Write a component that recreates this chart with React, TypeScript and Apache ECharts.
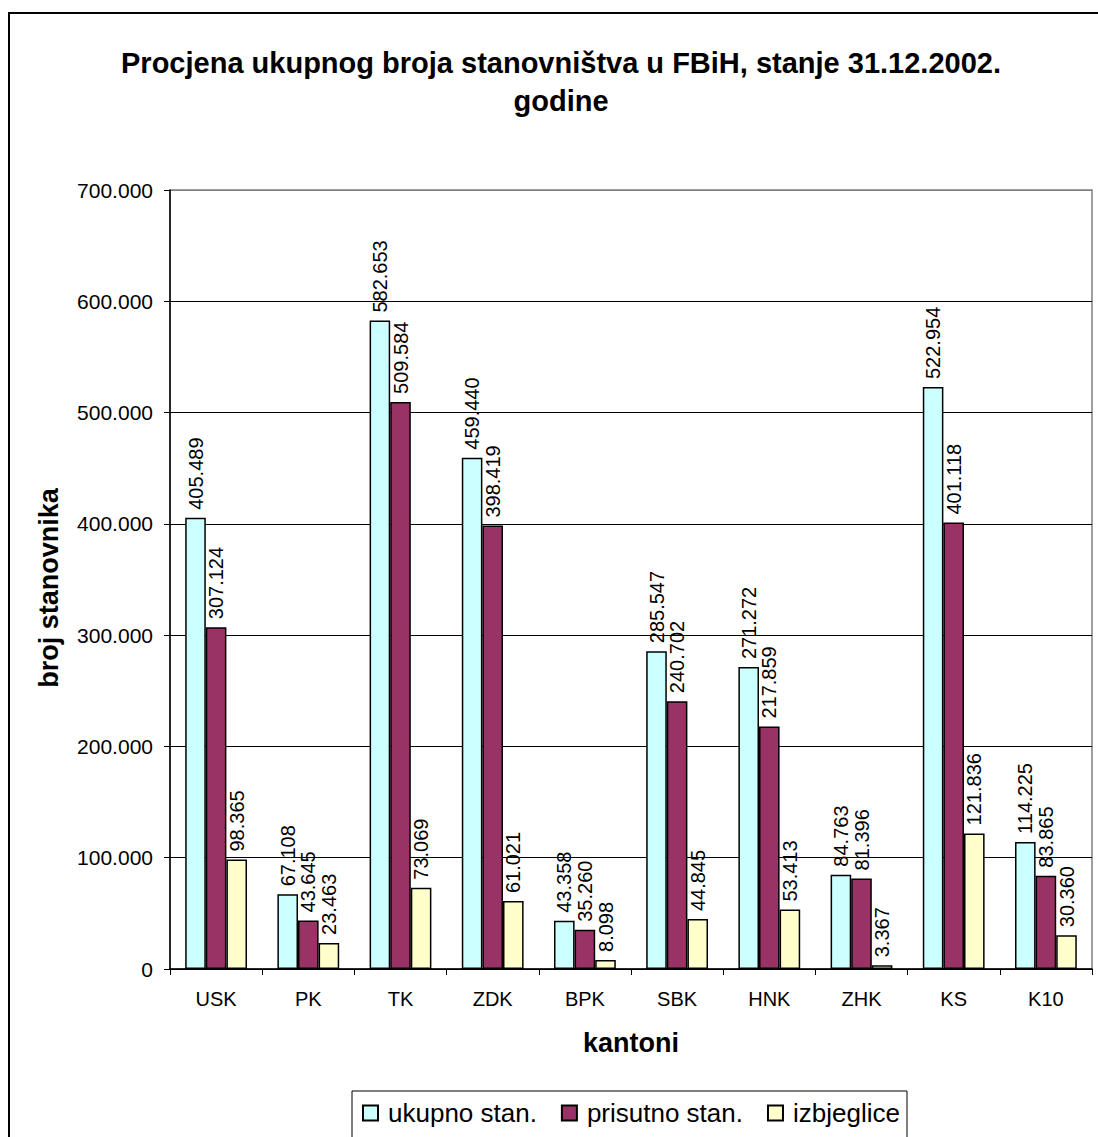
import React, { useEffect, useRef } from "react";
import * as echarts from "echarts";

const categories = ["USK", "PK", "TK", "ZDK", "BPK", "SBK", "HNK", "ZHK", "KS", "K10"];
const ukupno = [405489, 67108, 582653, 459440, 43358, 285547, 271272, 84763, 522954, 114225];
const prisutno = [307124, 43645, 509584, 398419, 35260, 240702, 217859, 81396, 401118, 83865];
const izbjeglice = [98365, 23463, 73069, 61021, 8098, 44845, 53413, 3367, 121836, 30360];
const seriesNames = ["ukupno stan.", "prisutno stan.", "izbjeglice"];
const seriesColors = ["#CCFFFF", "#993366", "#FFFFCC"];
const titleLines = ["Procjena ukupnog broja stanovništva u FBiH, stanje 31.12.2002.", "godine"];

const fmt = (v: number) => String(v).replace(/\B(?=(\d{3})+(?!\d))/g, ".");
const FONT = "Arial, 'Liberation Sans', sans-serif";

export default function App() {
  const ref = useRef<HTMLDivElement>(null);
  useEffect(() => {
    document.body.style.margin = "0";
    const chart = echarts.init(ref.current!, null, { renderer: "svg" });
    const dataSets = [ukupno, prisutno, izbjeglice];
    chart.setOption({
      animation: false,
      backgroundColor: "#ffffff",
      textStyle: { fontFamily: FONT },
      graphic: [
        {
          type: "rect",
          shape: { x: 9, y: 13, width: 1300, height: 1300 },
          style: { fill: "none", stroke: "#000", lineWidth: 2 },
          silent: true,
        },
        {
          type: "rect",
          shape: { x: 352, y: 1091, width: 555, height: 200 },
          style: { fill: "none", stroke: "#000", lineWidth: 1 },
          silent: true,
        },
        {
          type: "text",
          x: 561,
          y: 63,
          style: {
            text: titleLines[0],
            font: `bold 29px ${FONT}`,
            fill: "#000",
            textAlign: "center",
            textVerticalAlign: "middle",
          },
        },
        {
          type: "text",
          x: 561,
          y: 101,
          style: {
            text: titleLines[1],
            font: `bold 29px ${FONT}`,
            fill: "#000",
            textAlign: "center",
            textVerticalAlign: "middle",
          },
        },
        {
          type: "text",
          x: 49,
          y: 588,
          rotation: Math.PI / 2,
          style: {
            text: "broj stanovnika",
            font: `bold 27px ${FONT}`,
            fill: "#000",
            textAlign: "center",
            textVerticalAlign: "middle",
          },
        },
      ],
      legend: {
        data: seriesNames,
        left: 352,
        top: 1091,
        padding: [9, 10, 0, 10],
        itemWidth: 15,
        itemHeight: 15,
        itemGap: 24,
        borderWidth: 0,
        textStyle: { fontSize: 26, color: "#000", fontFamily: FONT, padding: [0, 0, 0, 5] },
        icon: "rect",
      },
      grid: {
        left: 170,
        top: 190,
        right: 6,
        bottom: 168,
        show: true,
        borderColor: "#808080",
        borderWidth: 1.5,
        containLabel: false,
      },
      xAxis: {
        type: "category",
        data: categories,
        name: "kantoni",
        nameLocation: "middle",
        nameGap: 60,
        nameTextStyle: { fontSize: 27, fontWeight: "bold", color: "#000", fontFamily: FONT },
        axisLine: { lineStyle: { color: "#000", width: 1.5 } },
        axisTick: { show: true, length: 6, lineStyle: { color: "#000" } },
        axisLabel: { fontSize: 20, color: "#000", margin: 20, fontFamily: FONT },
      },
      yAxis: {
        type: "value",
        min: 0,
        max: 700000,
        interval: 100000,
        axisLine: { show: true, lineStyle: { color: "#000", width: 1.5 } },
        axisTick: { show: true, length: 6, lineStyle: { color: "#000" } },
        axisLabel: { fontSize: 21, color: "#000", margin: 17, fontFamily: FONT, formatter: (v: number) => fmt(v) },
        splitLine: {
          lineStyle: {
            color: ["#000", "#000", "#000", "#000", "#000", "#000", "#000", "#808080"],
            width: 1,
          },
        },
      },
      series: dataSets.map((d, i) => ({
        name: seriesNames[i],
        type: "bar",
        data: d,
        barWidth: 20.6,
        barGap: "0%",
        itemStyle: { color: seriesColors[i], borderColor: "#000", borderWidth: 1.5 },
        label: {
          show: true,
          position: "top",
          rotate: 90,
          align: "left",
          verticalAlign: "middle",
          distance: 8,
          fontSize: 20,
          color: "#000",
          fontFamily: FONT,
          formatter: (p: any) => fmt(p.value),
        },
      })),
    });
    return () => chart.dispose();
  }, []);
  return <div ref={ref} style={{ width: 1098, height: 1137 }} />;
}
